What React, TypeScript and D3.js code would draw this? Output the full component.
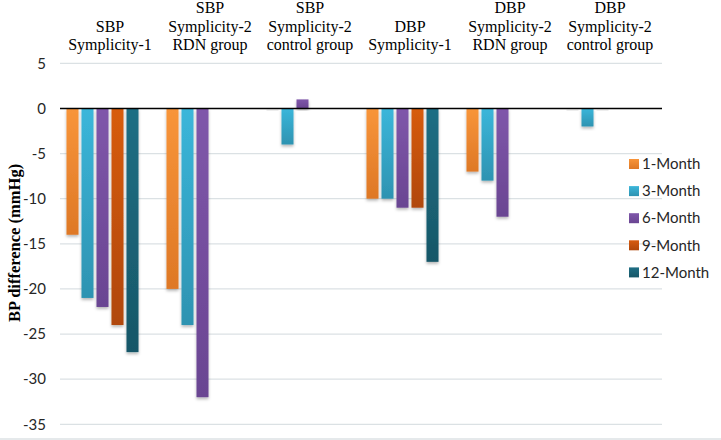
import React from "react";
import * as d3 from "d3";

const categories: string[][] = [
  ["SBP", "Symplicity-1"],
  ["SBP", "Symplicity-2", "RDN group"],
  ["SBP", "Symplicity-2", "control group"],
  ["DBP", "Symplicity-1"],
  ["DBP", "Symplicity-2", "RDN group"],
  ["DBP", "Symplicity-2", "control group"],
];

const seriesNames = ["1-Month", "3-Month", "6-Month", "9-Month", "12-Month"];

const month1: (number | null)[] = [-14, -20, 0, -10, -7, 0];
const month3: (number | null)[] = [-21, -24, -4, -10, -8, -2];
const month6: (number | null)[] = [-22, -32, 1, -11, -12, 0];
const month9: (number | null)[] = [-24, null, null, -11, null, null];
const month12: (number | null)[] = [-27, null, null, -17, null, null];

const seriesValues = [month1, month3, month6, month9, month12];

const yTicks = [5, 0, -5, -10, -15, -20, -25, -30, -35];

const colorsTop = ["#f8953a", "#3bb6da", "#7f57aa", "#d75c10", "#1f6e84"];
const colorsBottom = ["#de7826", "#2e93b1", "#6a4592", "#b0470a", "#175768"];

const W = 721;
const H = 440;
const plotLeft = 60;
const plotRight = 660;

export default function App() {
  const x0 = d3
    .scaleBand<number>()
    .domain(categories.map((_, i) => i))
    .range([plotLeft, plotRight])
    .padding(0);
  // 6 slots (5 series + one empty slot as in the source chart)
  const slots = [...seriesNames, ""];
  const x1 = d3
    .scaleBand<string>()
    .domain(slots)
    .range([5, x0.bandwidth() - 5])
    .paddingInner(0.2)
    .paddingOuter(0.1);
  const y = d3.scaleLinear().domain([5, -35]).range([63.3, 424.3]);

  return (
    <svg
      width={W}
      height={H}
      style={{ position: "absolute", left: 0, top: 0, background: "#fff" }}
    >
      <defs>
        {colorsTop.map((c, i) => (
          <linearGradient key={i} id={`g${i}`} x1="0" y1="0" x2="0" y2="1">
            <stop offset="0%" stopColor={c} />
            <stop offset="100%" stopColor={colorsBottom[i]} />
          </linearGradient>
        ))}
        <filter id="sh" x="-30%" y="-10%" width="160%" height="130%">
          <feDropShadow dx="0" dy="2" stdDeviation="1.4" floodColor="#000" floodOpacity="0.28" />
        </filter>
      </defs>

      {/* grid lines */}
      {yTicks
        .filter((t) => t !== 0)
        .map((t) => (
          <line
            key={t}
            x1={plotLeft}
            x2={662}
            y1={y(t)}
            y2={y(t)}
            stroke="#dbe1e4"
            strokeWidth={1.3}
          />
        ))}
      <line x1={0} x2={W} y1={439} y2={439} stroke="#dde2e5" strokeWidth={1.3} />

      {/* tick labels */}
      {yTicks.map((t) => (
        <text
          key={t}
          x={46}
          y={y(t)}
          dy="0.35em"
          textAnchor="end"
          fontFamily="Lato, 'Open Sans', sans-serif"
          fontSize={15}
          fill="#262626"
        >
          {t}
        </text>
      ))}

      {/* axis title */}
      <text
        transform={`translate(20,243) rotate(-90)`}
        textAnchor="middle"
        fontFamily="'Liberation Serif', 'Times New Roman', serif"
        fontWeight="bold"
        fontSize={16.5}
        fill="#000"
      >
        BP difference (mmHg)
      </text>

      {/* bars */}
      {seriesValues.map((vals, si) =>
        vals.map((v, ci) => {
          if (v === null) return null;
          const bx = (x0(ci) as number) + (x1(seriesNames[si]) as number);
          const bw = x1.bandwidth();
          if (v === 0) {
            return (
              <rect
                key={`${si}-${ci}`}
                x={bx}
                y={y(0) + 1}
                width={bw}
                height={1.5}
                fill="#e6e6e6"
                opacity={0.8}
              />
            );
          }
          const top = Math.min(y(0), y(v));
          const h = Math.abs(y(v) - y(0));
          return (
            <rect
              key={`${si}-${ci}`}
              x={bx}
              y={top}
              width={bw}
              height={h}
              fill={`url(#g${si})`}
              filter="url(#sh)"
            />
          );
        })
      )}

      {/* zero line */}
      <line x1={plotLeft} x2={662} y1={y(0)} y2={y(0)} stroke="#000" strokeWidth={1.5} />

      {/* category labels */}
      {categories.map((lines, ci) => {
        const cx = (x0(ci) as number) + x0.bandwidth() / 2;
        return (
          <text
            key={ci}
            textAnchor="middle"
            fontFamily="'Liberation Serif', 'Times New Roman', serif"
            fontSize={16}
            fill="#000"
          >
            {lines.map((l, li) => (
              <tspan key={li} x={cx} y={50 - (lines.length - 1 - li) * 18.5}>
                {l}
              </tspan>
            ))}
          </text>
        );
      })}

      {/* legend */}
      {seriesNames.map((n, i) => {
        const ly = 164 + i * 27.1;
        return (
          <g key={n}>
            <rect x={629} y={ly - 5} width={10} height={10} fill={`url(#g${i})`} />
            <text
              x={642}
              y={ly}
              dy="0.35em"
              fontFamily="Lato, 'Open Sans', sans-serif"
              fontSize={15}
              fill="#262626"
            >
              {n}
            </text>
          </g>
        );
      })}
    </svg>
  );
}
